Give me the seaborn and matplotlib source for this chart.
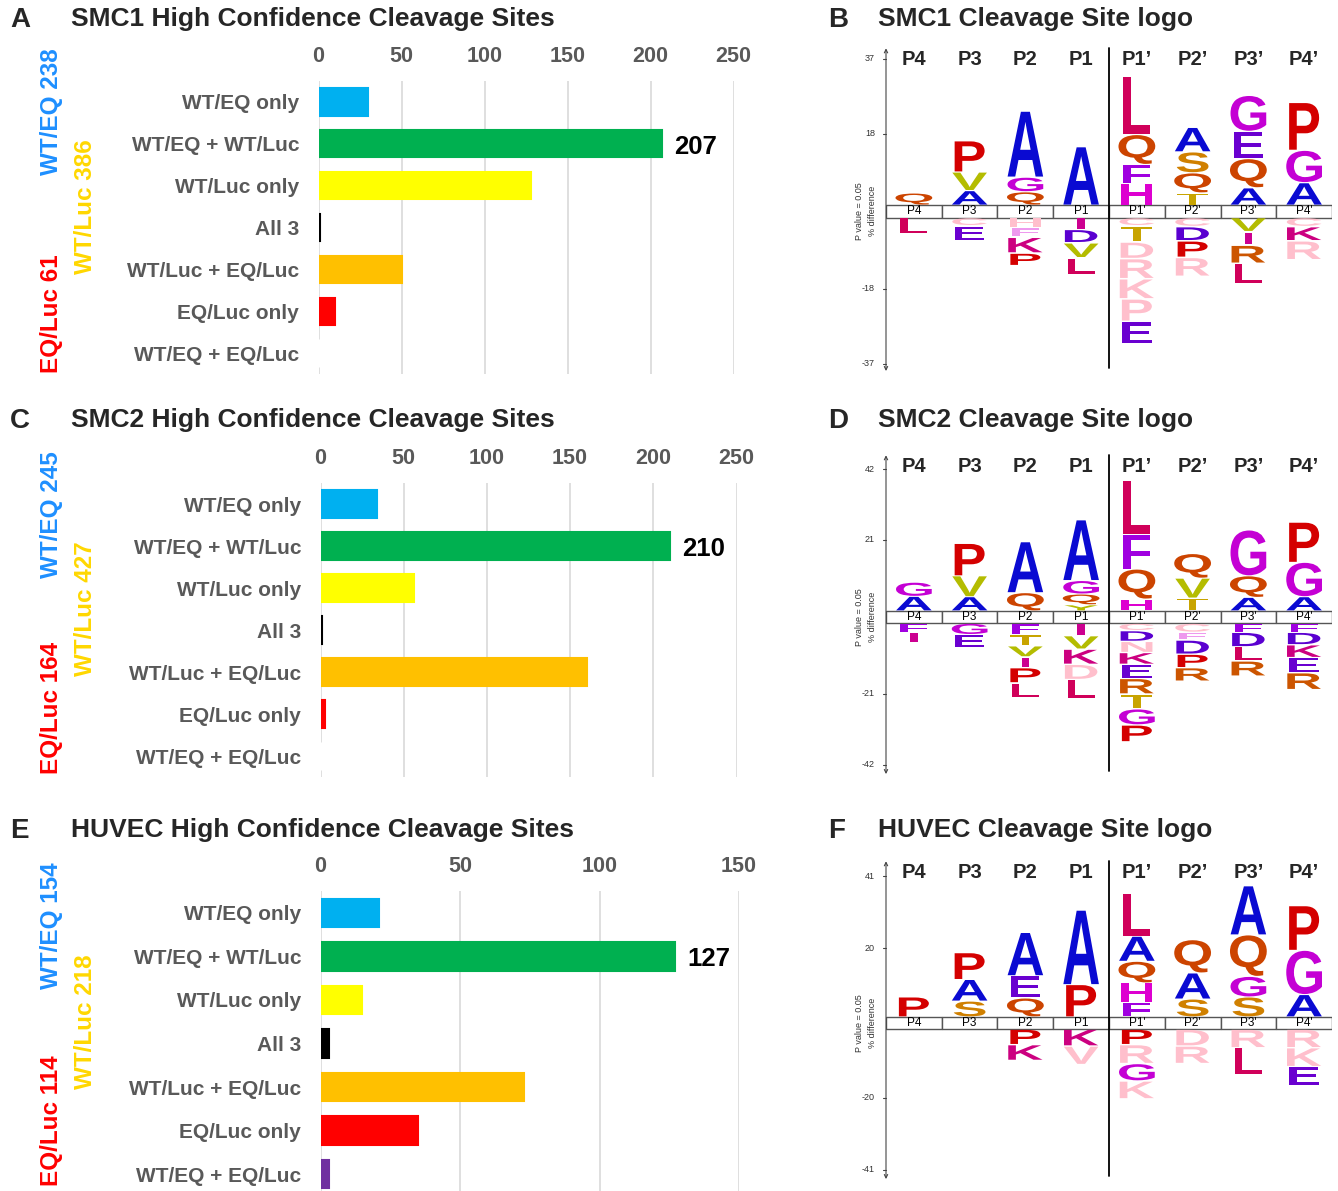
import numpy as np
import pandas as pd
import seaborn as sns
import matplotlib
matplotlib.use("Agg")
import matplotlib.pyplot as plt
from matplotlib.textpath import TextPath
from matplotlib.font_manager import FontProperties
from matplotlib.patches import PathPatch, Rectangle
from matplotlib.transforms import Affine2D

# ---------------- data ----------------
categories = ["WT/EQ only", "WT/EQ + WT/Luc", "WT/Luc only", "All 3",
              "WT/Luc + EQ/Luc", "EQ/Luc only", "WT/EQ + EQ/Luc"]
bar_colors = ["#00b0f0", "#00b050", "#ffff00", "#000000", "#ffc000", "#ff0000", "#7030a0"]

smc1_counts = [30, 207, 128, 1, 50, 10, 0]
smc2_counts = [34, 210, 56, 1, 160, 3, 0]
huvec_counts = [21, 127, 15, 3, 73, 35, 3]

smc1_groups = ["WT/EQ 238", "WT/Luc 386", "EQ/Luc 61"]
smc2_groups = ["WT/EQ 245", "WT/Luc 427", "EQ/Luc 164"]
huvec_groups = ["WT/EQ 154", "WT/Luc 218", "EQ/Luc 114"]
group_colors = ["#1e8fff", "#ffd700", "#ff0000"]

bar_titles = ["SMC1 High Confidence Cleavage Sites",
              "SMC2 High Confidence Cleavage Sites",
              "HUVEC High Confidence Cleavage Sites"]
logo_titles = ["SMC1 Cleavage Site logo", "SMC2 Cleavage Site logo", "HUVEC Cleavage Site logo"]

positions = ["P4", "P3", "P2", "P1", "P1\u2019", "P2\u2019", "P3\u2019", "P4\u2019"]
band_positions = ["P4", "P3", "P2", "P1", "P1'", "P2'", "P3'", "P4'"]

# logo letters: upper stacks listed bottom->top, lower stacks listed top->bottom
# lowercase = faded (light) residue
smc1_up_letters = ["Q", "AVP", "QGA", "A", "HFQL", "TQSA", "AQEG", "AGP"]
smc1_up_heights = [[3.1], [3.7, 4.7, 7.9], [3.4, 3.7, 16.7], [14.8],
                   [5.4, 4.9, 7.6, 14.8], [3.1, 5.1, 5.3, 6.2], [4.4, 7.4, 6.9, 9.1], [5.7, 8.2, 12.1]]
smc1_dn_letters = ["L", "cE", "hfKP", "IDVL", "cTdrkpE", "cDPr", "VIRL", "cKr"]
smc1_dn_heights = [[4.2], [2.1, 3.8], [2.5, 2.5, 4.0, 3.2], [3.0, 3.4, 3.8, 4.2],
                   [2.1, 4.1, 4.2, 5.1, 5.1, 5.7, 5.7], [2.3, 3.6, 4.2, 4.8],
                   [3.6, 3.4, 4.6, 5.1], [2.3, 3.6, 4.8]]
smc1_ticks = [37, 18]

smc2_up_letters = ["AG", "AVP", "QA", "YQGA", "HQFL", "TVQ", "AQG", "AGP"]
smc2_up_heights = [[4.3, 4.2], [4.2, 6.2, 9.6], [5.4, 15.1], [1.8, 3.2, 4.0, 18.0],
                   [3.5, 8.9, 10.4, 16.0], [3.8, 5.9, 7.3], [4.0, 6.4, 13.6], [4.2, 10.2, 11.9]]
smc2_dn_letters = ["FI", "GE", "FTVIPL", "IVKdL", "cDnKERTGP", "cfDPR", "FDLR", "FDKER"]
smc2_dn_heights = [[2.7, 3.0], [3.4, 4.0], [3.4, 3.3, 3.3, 3.2, 4.5, 4.5],
                   [3.7, 4.0, 4.5, 4.5, 5.6], [2.2, 3.2, 3.3, 3.5, 4.2, 4.6, 4.4, 4.8, 5.0],
                   [2.7, 2.3, 4.2, 4.0, 4.0], [2.7, 4.3, 4.2, 4.5], [2.7, 3.7, 3.8, 4.5, 5.0]]
smc2_ticks = [42, 21]

huvec_up_letters = ["P", "SAP", "QEA", "PA", "FHQAL", "SAQ", "SGQA", "AGP"]
huvec_up_heights = [[5.8], [4.6, 6.3, 7.8], [5.5, 6.5, 12.6], [9.4, 21.7],
                    [4.1, 5.8, 6.3, 7.3, 12.4], [5.2, 7.6, 9.7], [5.8, 6.0, 12.1, 14.3],
                    [6.5, 12.9, 13.0]]
huvec_dn_letters = ["", "", "PK", "Kv", "PrGk", "dr", "rL", "rkE"]
huvec_dn_heights = [[], [], [4.5, 4.6], [4.9, 5.4], [4.5, 5.5, 5.1, 5.2], [4.9, 5.1],
                    [5.4, 7.8], [5.4, 5.5, 5.5]]
huvec_ticks = [41, 20]

aa_colors = {
    'A': '#0a0ad2', 'P': '#d40000', 'L': '#d0005a', 'Q': '#cc4400', 'G': '#c400d4',
    'E': '#6a00d0', 'V': '#b4bc00', 'S': '#d08000', 'T': '#c8a400', 'H': '#dd00d0',
    'F': '#a000e0', 'D': '#5a00d0', 'K': '#cc0080', 'R': '#cc5500', 'I': '#cc0090',
    'Y': '#b4bc00', 'N': '#cc0080', 'C': '#ffb6c8',
}
faded_color = '#ffbfcc'
faded_f_color = '#ee99ee'

# ---------------- figure ----------------
W, H = 1338, 1191
DPI = 100
sns.set_theme(style="white")
plt.rcParams['font.family'] = ['Liberation Sans', 'DejaVu Sans']

fig = plt.figure(figsize=(W / DPI, H / DPI), dpi=DPI)


def add_ax(left, right, top, bottom):
    return fig.add_axes([left / W, 1 - bottom / H, (right - left) / W, (bottom - top) / H])


def ftext(x, y, s, **kw):
    fig.text(x / W, 1 - y / H, s, **kw)


GRAY = "#595959"


def bar_panel(box, counts, xmax, groups, group_y):
    ax = add_ax(*box)
    df = pd.DataFrame({"category": categories, "count": counts})
    sns.barplot(data=df, x="count", y="category", hue="category", palette=bar_colors,
                legend=False, orient="h", width=0.65, saturation=1, ax=ax)
    for p in ax.patches:
        if p.get_width() > 0:
            p.set_edgecolor(p.get_facecolor())
            p.set_linewidth(1.5)
    ax.set_xlim(0, xmax)
    ax.set_ylim(6.5, -0.5)
    ax.set_xticks(range(0, xmax + 1, 50))
    ax.xaxis.tick_top()
    ax.grid(axis='x', color='#d9d9d9', lw=1.2)
    ax.set_axisbelow(True)
    for s in ax.spines.values():
        s.set_visible(False)
    ax.set_xlabel("")
    ax.set_ylabel("")
    ax.tick_params(axis='x', length=0, pad=10, labelsize=15.5, labelcolor=GRAY)
    ax.tick_params(axis='y', length=0, pad=14, labelsize=15, labelcolor=GRAY)
    for t in ax.get_xticklabels() + ax.get_yticklabels():
        t.set_fontweight('bold')
    imax = int(np.argmax(counts))
    ax.annotate(str(counts[imax]), xy=(counts[imax], imax), xytext=(9, -2),
                textcoords='offset points', ha='left', va='center',
                fontsize=18.5, fontweight='bold', color='black')
    xs = [52, 86, 52]
    for g, c, x, y in zip(groups, group_colors, xs, group_y):
        ftext(x, y, g, rotation=90, ha='center', va='center', fontsize=17.5,
              fontweight='bold', color=c)
    return ax


fp_glyph = FontProperties(family='Liberation Sans', weight='bold')
SX = 0.95  # horizontal size of one em, in column units


def glyph(ax, ch, xc, y0, h, color):
    tp = TextPath((0, 0), ch, size=1, prop=fp_glyph)
    ext = tp.get_extents()
    tr = (Affine2D().translate(-(ext.x0 + ext.x1) / 2, -ext.y0)
          .scale(SX, h / ext.height).translate(xc, y0))
    ax.add_patch(PathPatch(tr.transform_path(tp), fc=color, ec='none', lw=0))


def letter_color(ch):
    if ch.islower():
        return faded_f_color if ch == 'f' else faded_color
    return aa_colors[ch]


def logo_panel(box, band_top_px, ppu, up_l, up_h, dn_l, dn_h, ticks):
    left, right, top, bottom = box
    ax = add_ax(left, right, top, bottom)
    ytop = (band_top_px - top) / ppu
    ybot = -(bottom - band_top_px) / ppu
    band = 12.5 / ppu
    ax.set_xlim(0, 8)
    ax.set_ylim(ybot, ytop)
    ax.axis('off')
    gap = 0.2
    for i in range(8):
        ax.add_patch(Rectangle((i, -band), 1, band, fc='white', ec='#555555', lw=1.0))
        ax.text(i + 0.5, -band / 2, band_positions[i], ha='center', va='center',
                fontsize=8.5, color='black')
        ax.text(i + 0.5, 0.955, positions[i], ha='center', va='center', fontsize=14.5,
                fontweight='bold', transform=ax.get_xaxis_transform())
        y = 0.0
        for ch, h in zip(up_l[i], up_h[i]):
            glyph(ax, ch.upper(), i + 0.5, y + gap * 0.5, h - gap * 1.5, letter_color(ch))
            y += h
        y = -band
        for ch, h in zip(dn_l[i], dn_h[i]):
            glyph(ax, ch.upper(), i + 0.5, y - h + gap, h - gap * 2, letter_color(ch))
            y -= h
    # divider
    ax.axvline(4, ymin=0.022, ymax=0.99, color='black', lw=1.3)
    # arrow axis
    ax.annotate('', xy=(0, 0.99), xytext=(0, 0.012),
                xycoords=('data', 'axes fraction'), textcoords=('data', 'axes fraction'),
                arrowprops=dict(arrowstyle='<->', color='#444444', lw=0.8,
                                shrinkA=0, shrinkB=0, mutation_scale=6),
                annotation_clip=False)
    for v in ticks:
        for yy, lab in ((v, str(v)), (-band - v, "-" + str(v))):
            ax.plot([-0.06, 0], [yy, yy], color='#444444', lw=0.8, clip_on=False)
            ax.text(-0.2, yy, lab, ha='right', va='center', fontsize=6.5, color='#333333')
    ax.text(-0.47, -band / 2, "P value = 0.05", rotation=90, ha='center', va='center',
            fontsize=6.5, color='#333333')
    ax.text(-0.25, -band / 2, "% difference", rotation=90, ha='center', va='center',
            fontsize=6.5, color='#333333')
    return ax


# bar panels
bar_panel((318.5, 733.5, 81, 374), smc1_counts, 250, smc1_groups, [112, 207, 314])
bar_panel((320.5, 736.5, 483, 777), smc2_counts, 250, smc2_groups, [515, 609, 708])
bar_panel((320.5, 739, 891, 1196), huvec_counts, 150, huvec_groups, [926, 1022, 1121])

# logo panels
logo_panel((886, 1332, 45, 375), 205, 3.95, smc1_up_letters, smc1_up_heights,
           smc1_dn_letters, smc1_dn_heights, smc1_ticks)
logo_panel((886, 1332, 452, 778), 610.7, 3.37, smc2_up_letters, smc2_up_heights,
           smc2_dn_letters, smc2_dn_heights, smc2_ticks)
logo_panel((886, 1332, 858, 1183), 1016.7, 3.43, huvec_up_letters, huvec_up_heights,
           huvec_dn_letters, huvec_dn_heights, huvec_ticks)

# panel letters and titles
for letter, x, y in [("A", 10, 20), ("C", 10, 421), ("E", 10, 831),
                     ("B", 828, 20), ("D", 828, 421), ("F", 828, 831)]:
    ftext(x, y, letter, ha='left', va='center', fontsize=20, fontweight='bold')
for t, y in zip(bar_titles, [19, 420, 830]):
    ftext(71, y, t, ha='left', va='center', fontsize=19, fontweight='bold')
for t, y in zip(logo_titles, [19, 420, 830]):
    ftext(878, y, t, ha='left', va='center', fontsize=19, fontweight='bold')

fig.savefig("out.png", dpi=DPI, facecolor='white')
